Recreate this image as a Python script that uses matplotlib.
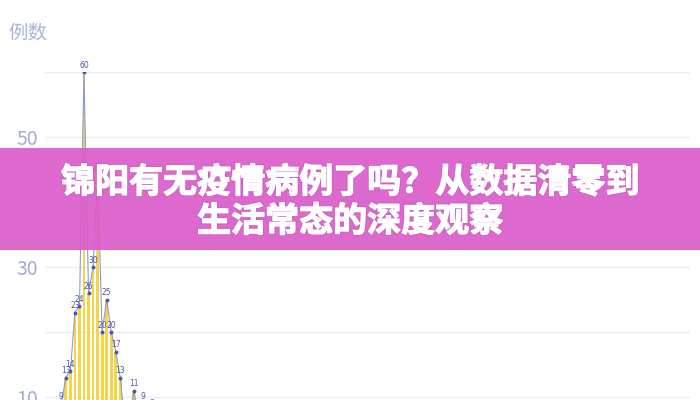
import matplotlib
matplotlib.use("Agg")
import matplotlib.pyplot as plt
import matplotlib.patheffects as pe
from matplotlib.patches import Rectangle

# daily case counts (only the first few weeks rise above the visible floor)
cases = [
    1, 2, 5, 9, 13, 14, 23, 24, 60, 26, 30, 44, 20, 25, 20, 17, 13, 6, 5, 11,
    7, 9, 6, 8, 5, 4, 6, 3, 4, 2, 3, 2, 1, 2, 1, 1, 0, 1, 0, 0,
    1, 0, 0, 0, 0, 0, 0, 0, 0, 0, 0, 0, 0, 0, 0, 0, 0, 0, 0, 0,
    0, 0, 0, 0, 0, 0, 0, 0, 0, 0, 0, 0, 0, 0, 0, 0, 0, 0, 0, 0,
    0, 0, 0, 0, 0, 0, 0, 0, 0, 0, 0, 0, 0, 0, 0, 0, 0, 0, 0, 0,
    0, 0, 0, 0, 0, 0, 0, 0, 0, 0, 0, 0, 0, 0, 0, 0, 0, 0, 0, 0,
    0, 0, 0, 0, 0, 0, 0, 0, 0, 0, 0, 0, 0, 0, 0, 0, 0, 0, 0, 0,
    0, 0,
]
days = list(range(len(cases)))
y_ticks = [10, 30, 50]
y_grid = [20, 40, 60]
y_name = "例数"
title_lines = ["锦阳有无疫情病例了吗？从数据清零到", "生活常态的深度观察"]

cjk = ["Noto Sans CJK SC", "DejaVu Sans"]
plt.rcParams["font.family"] = cjk

fig = plt.figure(figsize=(7, 4), dpi=100)
# plot area: 60 at y=72px, 6.5 px per case, bottom of picture cuts the axis
ax = fig.add_axes([45 / 700, 0, 645 / 700, 328 / 400])
y_floor = 60 - 328 / 6.5

ax.bar(days, cases, width=0.62, color="#f5d547", zorder=2)
ax.plot(days, cases, color="#8e9bd2", linewidth=0.8, marker="o",
        markersize=1.8, markerfacecolor="#4a58a6", markeredgecolor="#4a58a6",
        zorder=3)
# labels of points below the cut-off edge fall outside the picture
for d, v in zip(days, cases):
    if v < 8:
        continue
    ax.annotate(str(v), (d, v), xytext=(0, 1.5), textcoords="offset points",
                ha="center", va="bottom", fontsize=5.5, color="#4a58a6",
                family="DejaVu Sans", zorder=4, annotation_clip=False)

ax.set_xlim(-0.6, len(cases) - 0.4)
ax.set_ylim(y_floor, 60)
ax.set_yticks(y_ticks)
ax.set_yticks(y_grid, minor=True)
ax.set_xticks([])
ax.grid(axis="y", which="both", color="#ebebeb", linewidth=1, zorder=0)
ax.tick_params(axis="y", which="both", length=0, pad=5,
               labelsize=14, labelcolor="#a3acd6")
for s in ax.spines.values():
    s.set_visible(False)

fig.text(8 / 700, 1 - 34 / 400, y_name, fontsize=14, color="#a9b5d9",
         ha="left", va="center")

banner = Rectangle((0, 1 - 250 / 400), 1, 102 / 400, transform=fig.transFigure,
                   facecolor="#da5ccb", alpha=0.92, edgecolor="none", zorder=5)
fig.add_artist(banner)
for i, line in enumerate(title_lines):
    t = fig.text(0.5, 1 - (182 + 39 * i) / 400, line, fontsize=24.5,
                 fontweight="heavy", color="white", ha="center", va="center",
                 zorder=6)
    t.set_path_effects([pe.withStroke(linewidth=2.2, foreground="#b04aa4",
                                      alpha=0.35),
                        pe.withStroke(linewidth=1.0, foreground="white"),
                        pe.Normal()])

fig.savefig("out.png", dpi=100)
